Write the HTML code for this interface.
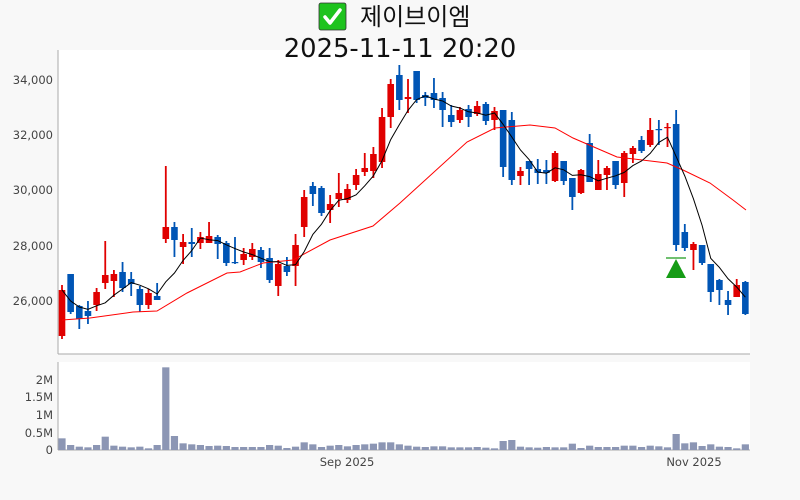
<!DOCTYPE html>
<html><head><meta charset="utf-8"><style>
html,body{margin:0;padding:0;background:#f8f8f8;}
svg{display:block;font-family:"DejaVu Sans","Noto Sans CJK KR",sans-serif;}
</style></head><body>
<svg id="s" width="800" height="500" xmlns="http://www.w3.org/2000/svg">
<rect width="800" height="500" fill="#f8f8f8"/>
<rect x="58" y="50" width="692" height="304" fill="#fff"/>
<rect x="58" y="362" width="692" height="88" fill="#fff"/>
<line x1="58" y1="50" x2="58" y2="354" stroke="#aaa" stroke-width="1"/>
<line x1="58" y1="354" x2="750" y2="354" stroke="#aaa" stroke-width="1"/>
<line x1="58" y1="362" x2="58" y2="450" stroke="#aaa" stroke-width="1"/>
<line x1="58" y1="450" x2="750" y2="450" stroke="#aaa" stroke-width="1"/>
<rect x="319" y="3" width="27" height="27" rx="2" fill="#1ec31e" stroke="#333" stroke-width="0.8"/>
<path d="M325 17 L330 23 L340 10" stroke="#fff" stroke-width="3.5" fill="none" stroke-linecap="round" stroke-linejoin="round"/>
<text x="360" y="25" font-size="24" fill="#111" font-family="Noto Sans CJK KR, sans-serif">제이브이엠</text>
<text x="400" y="57" font-size="25.8" fill="#111" text-anchor="middle">2025-11-11 20:20</text>
<g font-size="11.5" fill="#444" text-anchor="end">
<text x="53" y="84">34,000</text><text x="53" y="139">32,000</text><text x="53" y="194">30,000</text><text x="53" y="250">28,000</text><text x="53" y="305">26,000</text>
<text x="53" y="384">2M</text><text x="53" y="401">1.5M</text><text x="53" y="419">1M</text><text x="53" y="437">0.5M</text><text x="53" y="454">0</text>
</g>
<g font-size="11.5" fill="#444" text-anchor="middle"><text x="347" y="466">Sep 2025</text><text x="694" y="466">Nov 2025</text></g>
<g id="g"></g>
</svg>
<script>
var C=[
['r',290,336,285,339],['b',274,312,274,314],['b',306,319,305,329],['b',311,316,301,324],['r',292,305,288,311],
['r',275,283,241,289],['r',274,281,270,297],['b',272,288,262,292],['b',279,284,272,296],['b',289,305,286,312],
['r',293,305,289,309],['b',296,300,283,300],['r',227,239,166,243],['b',227,240,222,257],['r',242,247,234,264],
['b',242,244,228,257],['r',237,243,232,249],['r',236,243,222,243],['b',237,244,235,259],['b',243,263,241,266],
['b',262,263,237,264],['r',254,260,248,265],['r',249,257,243,260],['b',250,262,247,268],['b',258,280,248,283],
['r',264,286,260,296],['b',266,272,257,276],['r',245,266,234,286],['r',197,227,190,237],['b',186,194,182,206],
['b',188,213,186,216],['r',204,210,195,223],['r',193,199,173,207],['r',189,200,184,203],['r',175,185,169,190],
['r',168,172,153,176],['r',154,171,147,178],['r',117,162,108,168],['r',84,117,79,128],['b',75,100,65,110],
['r',97,99,79,113],['b',71,100,71,103],['b',95,98,92,106],['b',93,100,78,108],['b',98,110,92,127],
['b',115,122,105,127],['r',110,120,107,123],['b',109,117,105,127],['r',106,114,101,116],['b',104,121,102,125],
['r',111,120,107,130],['b',110,167,110,177],['b',120,180,112,185],['r',171,176,167,185],['b',161,169,161,185],
['b',169,173,159,184],['b',170,173,160,184],['r',153,181,151,182],['b',161,181,161,185],['b',178,197,178,210],
['r',170,193,169,194],['b',143,182,134,182],['r',174,190,160,190],['r',168,175,166,190],['b',161,185,161,189],
['r',153,183,151,197],['r',148,154,146,163],['b',140,151,136,153],['r',130,145,118,147],['b',129,130,120,145],
['r',127,128,123,147],['b',124,245,110,251],['b',232,248,224,251],['r',244,250,242,270],['b',245,263,245,265],
['b',264,292,264,302],['b',280,290,279,305],['b',300,305,291,315],['r',285,297,279,297],['b',282,314,281,315]];
var V=[250,270,275,277,270,245,272,275,277,275,280,270,37,243,265,268,270,273,272,273,276,276,276,276,270,272,279,275,262,268,276,272,270,274,270,268,266,262,262,268,
272,275,276,274,274,277,277,277,276,278,280,258,255,275,277,278,276,277,277,266,279,272,276,276,276,272,272,276,272,274,277,237,265,262,273,268,275,276,280,268];
var h='',cl=[];
for(var i=0;i<C.length;i++){var c=C[i],x=62+8.65*i,col=c[0]=='r'?'#e00000':'#0055b5';
var bh=Math.max(c[2]-c[1],1.2);
h+='<line x1="'+x+'" y1="'+c[3]+'" x2="'+x+'" y2="'+c[4]+'" stroke="'+col+'" stroke-width="1.8"/>';
h+='<rect x="'+(x-3.3)+'" y="'+c[1]+'" width="6.6" height="'+bh+'" fill="'+col+'"/>';
cl.push(c[0]=='r'?c[1]:c[2]);
var vh=(285-V[i])/3;h+='<rect x="'+(x-3.6)+'" y="'+(450-vh)+'" width="7.2" height="'+vh+'" fill="#8c96b4"/>';}
var ma20=[[62,320],[90,318],[133,312],[157,311],[187,293],[227,273],[240,272],[263,263],[293,260],[330,240],[373,226],[400,203],[467,142],[495,128],[530,125],[555,128],[573,138],[617,157],[667,163],[683,170],[710,183],[733,200],[746,210]];
h+='<polyline fill="none" stroke="#f00" stroke-width="1" points="'+ma20.map(function(p){return p.join(',')}).join(' ')+'"/>';
var p5=[];for(var i=0;i<cl.length;i++){var s=0,n=0;for(var j=Math.max(0,i-4);j<=i;j++){s+=cl[j];n++;}p5.push((62+8.65*i)+','+(s/n).toFixed(1));}
h+='<polyline fill="none" stroke="#000" stroke-width="1" points="'+p5.join(' ')+'"/>';
h+='<line x1="666" y1="258" x2="686" y2="258" stroke="#1a9a1a" stroke-width="1.2"/><polygon points="676,259 666,278 686,278" fill="#169c16"/>';
document.getElementById('g').innerHTML=h;
</script>
</body></html>
